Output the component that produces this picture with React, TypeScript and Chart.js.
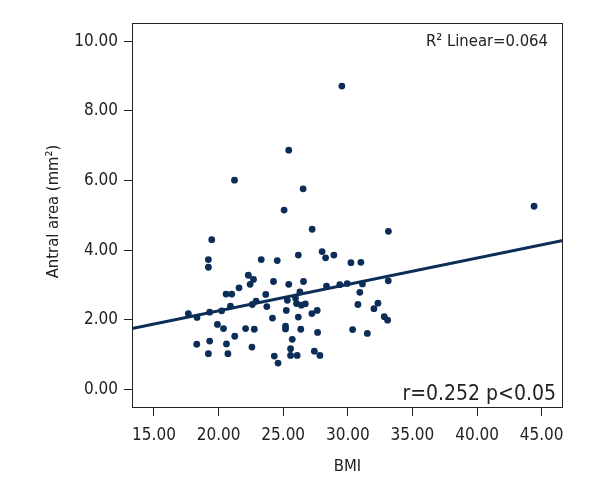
import React, { useEffect, useRef } from "react";
import { Chart, registerables } from "chart.js";
Chart.register(...registerables);

const FONT = '"DejaVu Sans Condensed", "Liberation Sans Narrow", sans-serif';
const INK = "#222222";
const DOT = "#0b2d58";

const bmi = [
  29.54, 25.43, 21.23, 26.54, 44.41, 25.07, 27.24, 19.47, 33.14, 19.21,
  19.21, 23.30, 24.54, 26.17, 28.01, 28.28, 28.92, 30.24, 31.01, 22.30,
  22.70, 22.44, 24.25, 21.58, 20.58, 21.02, 23.65, 25.43, 26.57, 28.35,
  29.38, 29.95, 31.13, 33.13, 26.29, 30.93, 22.90, 25.32, 25.95, 26.03,
  26.40, 26.71, 22.61, 23.73, 20.92, 20.24, 19.31, 17.66, 18.33, 25.24,
  27.22, 27.63, 30.78, 32.33, 32.02, 32.82, 33.08, 19.91, 20.38, 22.09,
  22.76, 24.17, 26.17, 25.18, 25.18, 26.36, 27.66, 30.37, 31.51, 21.25,
  18.31, 19.31, 20.61, 22.58, 25.70, 19.21, 20.72, 25.57, 25.57, 26.08,
  27.41, 27.84, 24.31, 24.60,
];
const antralArea = [
  8.71, 6.87, 6.01, 5.76, 5.26, 5.15, 4.60, 4.30, 4.54, 3.73,
  3.51, 3.73, 3.70, 3.86, 3.96, 3.78, 3.86, 3.64, 3.65, 3.28,
  3.16, 3.02, 3.10, 2.92, 2.74, 2.74, 2.73, 3.02, 3.10, 2.97,
  3.01, 3.04, 3.03, 3.12, 2.80, 2.79, 2.54, 2.56, 2.63, 2.47,
  2.42, 2.46, 2.44, 2.38, 2.39, 2.26, 2.22, 2.18, 2.07, 2.27,
  2.18, 2.27, 2.44, 2.48, 2.32, 2.09, 1.99, 1.87, 1.75, 1.75,
  1.73, 2.05, 2.08, 1.82, 1.74, 1.73, 1.64, 1.72, 1.61, 1.53,
  1.30, 1.39, 1.31, 1.22, 1.44, 1.03, 1.03, 1.17, 0.98, 0.98,
  1.10, 0.98, 0.96, 0.76,
];
const fitX = [13.3, 46.65];
const fitY = [1.75, 4.28];
const xTickValues = [15, 20, 25, 30, 35, 40, 45];
const yTickValues = [0, 2, 4, 6, 8, 10];
const xTitle = "BMI";
const yTitle = "Antral area (mm²)";
const r2Label = "R² Linear=0.064";
const statLabel = "r=0.252 p<0.05";

const framePlugin = {
  id: "frameAndText",
  afterDraw(chart: any) {
    const { ctx, chartArea: a } = chart;
    ctx.save();
    ctx.strokeStyle = INK;
    ctx.lineWidth = 1;
    ctx.strokeRect(
      Math.round(a.left) + 0.5,
      Math.round(a.top) + 0.5,
      Math.round(a.right - a.left) - 1,
      Math.round(a.bottom - a.top) - 1
    );
    ctx.fillStyle = INK;
    ctx.font = `16.5px ${FONT}`;
    ctx.textAlign = "right";
    ctx.textBaseline = "alphabetic";
    ctx.fillText(r2Label, a.right - 15, a.top + 23);
    ctx.font = `21px ${FONT}`;
    ctx.fillText(statLabel, a.right - 7, a.bottom - 8);
    ctx.font = `16.5px ${FONT}`;
    ctx.textAlign = "center";
    ctx.textBaseline = "middle";
    ctx.fillText(xTitle, (a.left + a.right) / 2, a.bottom + 59);
    ctx.translate(a.left - 78, (a.top + a.bottom) / 2 - 4);
    ctx.rotate(-Math.PI / 2);
    ctx.fillText(yTitle, 0, 0);
    ctx.restore();
  },
};

export default function App() {
  const ref = useRef<HTMLCanvasElement | null>(null);
  useEffect(() => {
    if (!ref.current) return;
    const points = bmi.map((x, i) => ({ x, y: antralArea[i] }));
    const fit = fitX.map((x, i) => ({ x, y: fitY[i] }));
    const tickFont = { family: FONT, size: 17 };
    const chart = new Chart(ref.current, {
      type: "scatter",
      data: {
        datasets: [
          {
            type: "line",
            data: fit,
            borderColor: DOT,
            borderWidth: 3,
            pointRadius: 0,
            fill: false,
            order: 2,
          } as any,
          {
            data: points,
            backgroundColor: DOT,
            borderWidth: 0,
            pointRadius: 3.4,
            order: 1,
          },
        ],
      },
      options: {
        responsive: false,
        animation: false,
        devicePixelRatio: 1,
        layout: { padding: { top: 23, right: 37, left: 0, bottom: 0 } },
        plugins: { legend: { display: false }, tooltip: { enabled: false } },
        scales: {
          x: {
            type: "linear",
            min: 13.3,
            max: 46.65,
            afterBuildTicks: (s: any) => {
              s.ticks = xTickValues.map((v) => ({ value: v }));
            },
            afterFit: (s: any) => {
              s.height = 92;
            },
            ticks: {
              callback: (v: any) => Number(v).toFixed(2),
              font: tickFont,
              color: INK,
              padding: 9,
              maxRotation: 0,
              autoSkip: false,
            },
            grid: { display: true, drawOnChartArea: false, drawTicks: true, tickLength: 8, color: INK },
            border: { display: false },
          },
          y: {
            type: "linear",
            min: -0.53,
            max: 10.52,
            afterBuildTicks: (s: any) => {
              s.ticks = yTickValues.map((v) => ({ value: v }));
            },
            afterFit: (s: any) => {
              s.width = 132;
            },
            ticks: {
              callback: (v: any) => Number(v).toFixed(2),
              font: tickFont,
              color: INK,
              padding: 6,
              autoSkip: false,
            },
            grid: { display: true, drawOnChartArea: false, drawTicks: true, tickLength: 8, color: INK },
            border: { display: false },
          },
        },
      },
      plugins: [framePlugin],
    });
    return () => chart.destroy();
  }, []);
  return (
    <div style={{ position: "fixed", left: 0, top: 0, width: 600, height: 500, background: "#fff" }}>
      <canvas ref={ref} width={600} height={500} style={{ display: "block" }} />
    </div>
  );
}
